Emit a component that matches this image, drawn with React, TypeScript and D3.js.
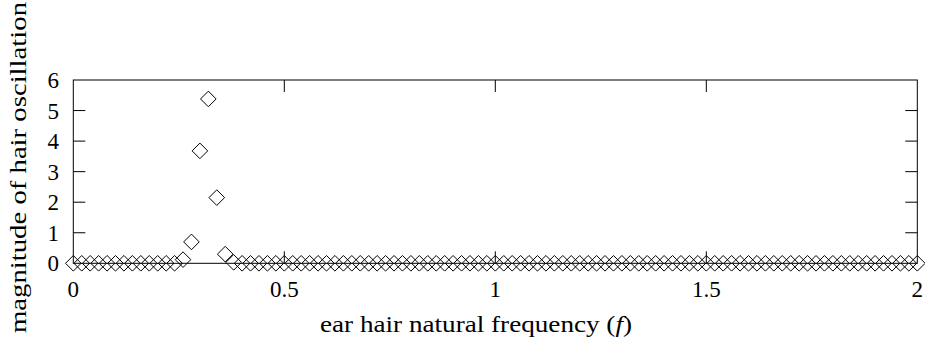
import React, { useEffect, useRef } from 'react';
import * as d3 from 'd3';

// sampled ear hair natural frequencies (f)
const frequencies: number[] = [
  0, 0.02, 0.04, 0.06, 0.08, 0.1, 0.12, 0.14, 0.16, 0.18,
  0.2, 0.22, 0.24, 0.26, 0.28, 0.3, 0.32, 0.34, 0.36, 0.38,
  0.4, 0.42, 0.44, 0.46, 0.48, 0.5, 0.52, 0.54, 0.56, 0.58,
  0.6, 0.62, 0.64, 0.66, 0.68, 0.7, 0.72, 0.74, 0.76, 0.78,
  0.8, 0.82, 0.84, 0.86, 0.88, 0.9, 0.92, 0.94, 0.96, 0.98,
  1, 1.02, 1.04, 1.06, 1.08, 1.1, 1.12, 1.14, 1.16, 1.18,
  1.2, 1.22, 1.24, 1.26, 1.28, 1.3, 1.32, 1.34, 1.36, 1.38,
  1.4, 1.42, 1.44, 1.46, 1.48, 1.5, 1.52, 1.54, 1.56, 1.58,
  1.6, 1.62, 1.64, 1.66, 1.68, 1.7, 1.72, 1.74, 1.76, 1.78,
  1.8, 1.82, 1.84, 1.86, 1.88, 1.9, 1.92, 1.94, 1.96, 1.98,
  2,
];

// magnitude of hair oscillation at each frequency
const magnitudes: number[] = [
  0, 0, 0, 0, 0, 0, 0, 0, 0, 0,
  0, 0, 0, 0.12, 0.7, 3.68, 5.38, 2.15, 0.3, 0.03,
  0, 0, 0, 0, 0, 0, 0, 0, 0, 0,
  0, 0, 0, 0, 0, 0, 0, 0, 0, 0,
  0, 0, 0, 0, 0, 0, 0, 0, 0, 0,
  0, 0, 0, 0, 0, 0, 0, 0, 0, 0,
  0, 0, 0, 0, 0, 0, 0, 0, 0, 0,
  0, 0, 0, 0, 0, 0, 0, 0, 0, 0,
  0, 0, 0, 0, 0, 0, 0, 0, 0, 0,
  0, 0, 0, 0, 0, 0, 0, 0, 0, 0,
  0,
];

const xTicks = [0, 0.5, 1, 1.5, 2];
const xTickLabels = ['0', '0.5', '1', '1.5', '2'];
const yTicks = [0, 1, 2, 3, 4, 5, 6];

const App: React.FC = () => {
  const chartRef = useRef<SVGSVGElement | null>(null);

  useEffect(() => {
    const width = 925;
    const height = 347;
    const margin = { top: 80, right: 7.7, bottom: 83.7, left: 73.3 };
    const font = '"Liberation Serif", "DejaVu Serif", serif';

    const svg = d3.select(chartRef.current);
    svg.selectAll('*').remove();
    svg.attr('width', width).attr('height', height);

    const x = d3.scaleLinear().domain([0, 2]).range([margin.left, width - margin.right]);
    const y = d3.scaleLinear().domain([0, 6]).range([height - margin.bottom, margin.top]);

    const tickLen = 12;

    // frame with mirrored ticks on all sides
    const frame = svg.append('g').attr('stroke', '#000').attr('stroke-width', 1).attr('fill', 'none');
    frame.append('rect')
      .attr('x', x(0)).attr('y', y(6))
      .attr('width', x(2) - x(0)).attr('height', y(0) - y(6));

    xTicks.slice(1, -1).forEach(t => {
      frame.append('line').attr('x1', x(t)).attr('x2', x(t)).attr('y1', y(0)).attr('y2', y(0) - tickLen);
      frame.append('line').attr('x1', x(t)).attr('x2', x(t)).attr('y1', y(6)).attr('y2', y(6) + tickLen);
    });
    yTicks.slice(1, -1).forEach(t => {
      frame.append('line').attr('x1', x(0)).attr('x2', x(0) + tickLen).attr('y1', y(t)).attr('y2', y(t));
      frame.append('line').attr('x1', x(2)).attr('x2', x(2) - tickLen).attr('y1', y(t)).attr('y2', y(t));
    });

    // tick labels
    svg.append('g')
      .selectAll('text')
      .data(xTicks)
      .enter().append('text')
      .attr('x', d => x(d))
      .attr('y', 297)
      .attr('text-anchor', 'middle')
      .attr('font-family', font)
      .attr('font-size', 23)
      .text((d, i) => xTickLabels[i]);

    svg.append('g')
      .selectAll('text')
      .data(yTicks)
      .enter().append('text')
      .attr('x', 59)
      .attr('y', d => y(d))
      .attr('dy', '0.35em')
      .attr('text-anchor', 'end')
      .attr('font-family', font)
      .attr('font-size', 23)
      .text(d => String(d));

    // diamond markers
    const diamond = (cx: number, cy: number, r: number) =>
      `M${cx},${cy - r}L${cx + r},${cy}L${cx},${cy + r}L${cx - r},${cy}Z`;

    svg.append('g')
      .selectAll('path')
      .data(frequencies.map((f, i) => ({ f, m: magnitudes[i] })))
      .enter().append('path')
      .attr('d', d => diamond(x(d.f), y(d.m), 7.8))
      .attr('fill', 'none')
      .attr('stroke', '#000')
      .attr('stroke-width', 1);

    // axis titles (stretched to the wider Computer Modern widths)
    const xLabel = svg.append('text')
      .attr('x', 320)
      .attr('y', 332)
      .attr('textLength', 312)
      .attr('lengthAdjust', 'spacingAndGlyphs')
      .attr('font-family', font)
      .attr('font-size', 23);
    xLabel.append('tspan').text('ear hair natural frequency (');
    xLabel.append('tspan').attr('font-style', 'italic').text('f');
    xLabel.append('tspan').text(')');

    svg.append('text')
      .attr('transform', `translate(26,${333}) rotate(-90)`)
      .attr('textLength', 331)
      .attr('lengthAdjust', 'spacingAndGlyphs')
      .attr('font-family', font)
      .attr('font-size', 23)
      .text('magnitude of hair oscillation');
  }, []);

  return (
    <div style={{ position: 'absolute', left: 0, top: 0 }}>
      <svg ref={chartRef}></svg>
    </div>
  );
};

export default App;
